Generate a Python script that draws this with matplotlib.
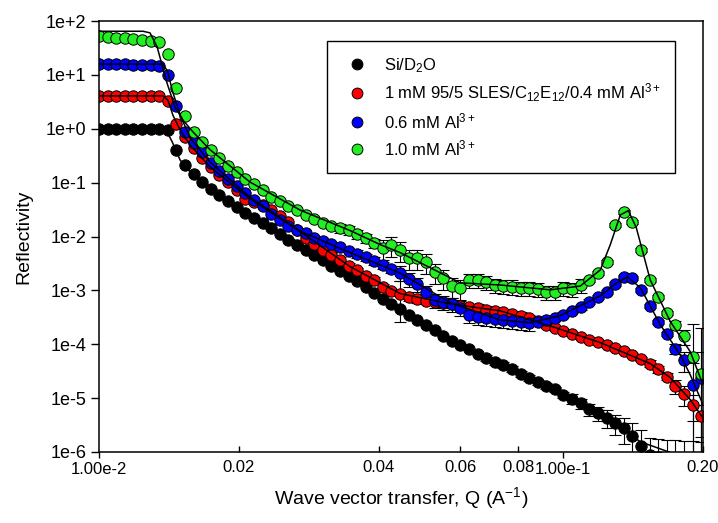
import numpy as np
import matplotlib.pyplot as plt
from matplotlib.ticker import NullLocator

plt.rcParams["font.family"] = ["Liberation Sans", "DejaVu Sans"]
plt.rcParams["mathtext.fontset"] = "custom"
plt.rcParams["mathtext.rm"] = "Liberation Sans"
plt.rcParams["mathtext.it"] = "Liberation Sans:italic"
plt.rcParams["mathtext.default"] = "regular"

# Wave vector transfer Q (A^-1), shared by all data sets.
q = [0.01000, 0.01044, 0.01089, 0.01137, 0.01186, 0.01238, 0.01292, 0.01348, 0.01407, 0.01468,
     0.01532, 0.01599, 0.01669, 0.01742, 0.01817, 0.01897, 0.01979, 0.02066, 0.02156, 0.02250,
     0.02348, 0.02450, 0.02557, 0.02668, 0.02785, 0.02906, 0.03033, 0.03165, 0.03303, 0.03447,
     0.03597, 0.03754, 0.03917, 0.04088, 0.04266, 0.04452, 0.04646, 0.04849, 0.05060, 0.05281,
     0.05511, 0.05751, 0.06002, 0.06263, 0.06536, 0.06821, 0.07119, 0.07429, 0.07753, 0.08091,
     0.08443, 0.08811, 0.09195, 0.09596, 0.1001, 0.1045, 0.1091, 0.1138, 0.1188, 0.1240,
     0.1294, 0.1350, 0.1409, 0.1470, 0.1534, 0.1601, 0.1671, 0.1744, 0.1820, 0.1899,
     0.1982]

# log10 of reflectivity (offset data sets, as plotted)
black_log = [0.00, 0.00, 0.00, 0.00, 0.00, 0.00, 0.00, 0.00, -0.02, -0.39,
             -0.67, -0.84, -0.99, -1.12, -1.23, -1.34, -1.46, -1.57, -1.66, -1.75,
             -1.85, -1.96, -2.07, -2.16, -2.25, -2.35, -2.44, -2.55, -2.64, -2.74,
             -2.83, -2.94, -3.05, -3.16, -3.25, -3.34, -3.45, -3.55, -3.64, -3.73,
             -3.84, -3.94, -4.01, -4.08, -4.18, -4.25, -4.33, -4.38, -4.46, -4.55,
             -4.62, -4.71, -4.77, -4.84, -4.94, -5.01, -5.10, -5.20, -5.27, -5.36,
             -5.46, -5.55, -5.70, -5.88, -6.05, -6.10, -6.15, -6.20, -6.25, -6.30,
             -6.35]
red_log = [0.61, 0.61, 0.61, 0.61, 0.61, 0.61, 0.61, 0.61, 0.52, 0.09,
           -0.15, -0.36, -0.54, -0.71, -0.86, -0.99, -1.13, -1.30, -1.36, -1.41,
           -1.51, -1.62, -1.73, -1.88, -2.03, -2.14, -2.25, -2.34, -2.43, -2.54,
           -2.62, -2.73, -2.80, -2.93, -3.01, -3.06, -3.12, -3.16, -3.19, -3.21,
           -3.23, -3.25, -3.29, -3.31, -3.32, -3.36, -3.38, -3.40, -3.44, -3.47,
           -3.51, -3.57, -3.64, -3.70, -3.75, -3.81, -3.86, -3.92, -3.96, -4.01,
           -4.07, -4.12, -4.20, -4.27, -4.36, -4.46, -4.60, -4.77, -4.92, -5.12,
           -5.33]
blue_log = [1.20, 1.20, 1.20, 1.20, 1.19, 1.19, 1.18, 1.17, 1.00, 0.42,
            -0.06, -0.26, -0.43, -0.63, -0.78, -0.93, -1.06, -1.19, -1.32, -1.43,
            -1.58, -1.69, -1.80, -1.88, -1.93, -2.02, -2.08, -2.14, -2.19, -2.27,
            -2.32, -2.38, -2.45, -2.53, -2.60, -2.67, -2.79, -2.88, -3.03, -3.18,
            -3.21, -3.25, -3.32, -3.45, -3.49, -3.51, -3.53, -3.55, -3.57, -3.58,
            -3.60, -3.58, -3.55, -3.51, -3.45, -3.38, -3.31, -3.21, -3.12, -3.03,
            -2.88, -2.75, -2.77, -2.99, -3.29, -3.58, -3.81, -4.08, -4.29, -4.75,
            -4.62]
green_log = [1.72, 1.70, 1.68, 1.68, 1.67, 1.65, 1.63, 1.61, 1.39, 0.76,
             0.24, -0.06, -0.24, -0.39, -0.54, -0.69, -0.80, -0.93, -1.02, -1.14,
             -1.26, -1.34, -1.43, -1.51, -1.60, -1.67, -1.75, -1.80, -1.84, -1.88,
             -1.95, -2.03, -2.12, -2.21, -2.16, -2.25, -2.40, -2.40, -2.47, -2.66,
             -2.77, -2.92, -2.95, -2.81, -2.81, -2.84, -2.90, -2.92, -2.93, -2.95,
             -2.95, -2.97, -3.03, -3.03, -2.95, -2.97, -2.90, -2.81, -2.68, -2.47,
             -1.78, -1.54, -1.73, -2.25, -2.81, -3.12, -3.42, -3.64, -3.85, -4.23,
             -4.55]

# relative error (dR/R) of each point, 0 = no visible bar
black_err = [0, 0, 0, 0, 0, 0, 0, 0, 0, 0,
             0, 0, 0, 0, 0, 0, 0, 0, 0, 0,
             0, 0, 0, 0, 0, 0, 0, 0, 0, 0,
             0, 0, 0, 0, 0, 0, 0, 0, 0, 0,
             0, 0, 0, 0, 0, 0.12, 0.12, 0.12, 0.12, 0.12,
             0.12, 0.12, 0.12, 0.12, 0.12, 0.2, 0.2, 0.25, 0.3, 0.35,
             0.4, 0.5, 0.7, 0.9, 1.0, 1.2, 1.4, 1.6, 1.9, 2.2,
             2.5]
red_err = [0, 0, 0, 0, 0, 0, 0, 0, 0, 0,
           0, 0, 0, 0, 0, 0, 0, 0, 0, 0,
           0, 0, 0, 0, 0.1, 0.1, 0.1, 0.1, 0.1, 0.1,
           0.1, 0.1, 0.1, 0.1, 0.1, 0.7, 0.15, 0.15, 0.15, 0.15,
           0.15, 0.15, 0.15, 0.15, 0.15, 0.15, 0.15, 0.15, 0.15, 0.15,
           0.15, 0.08, 0.08, 0.08, 0.08, 0.08, 0.08, 0.08, 0.08, 0.08,
           0.08, 0.08, 0.08, 0.08, 0.15, 0.15, 0.15, 0.3, 0.4, 0.5,
           0.6]
blue_err = [0, 0, 0, 0, 0, 0, 0, 0, 0, 0,
            0, 0, 0, 0, 0, 0, 0, 0, 0, 0,
            0, 0, 0, 0, 0, 0, 0, 0, 0, 0,
            0.15, 0.15, 0.15, 0.15, 0.15, 0.3, 0.3, 0.3, 0.3, 0.3,
            0.3, 0.3, 0.3, 0.3, 0.3, 0.3, 0.3, 0.3, 0.3, 0.3,
            0.3, 0.1, 0.1, 0.1, 0.1, 0.1, 0.1, 0.1, 0.1, 0.1,
            0.1, 0.08, 0.08, 0.08, 0.08, 0.08, 0.08, 0.2, 0.4, 1.5,
            2.0]
green_err = [0, 0, 0, 0, 0, 0, 0, 0, 0, 0,
             0, 0, 0, 0, 0, 0, 0, 0, 0, 0,
             0, 0, 0, 0, 0, 0, 0, 0, 0.2, 0.2,
             0.2, 0.2, 0.2, 0.4, 0.4, 0.4, 0.4, 0.4, 0.4, 0.4,
             0.4, 0.4, 0.4, 0.3, 0.3, 0.3, 0.3, 0.3, 0.3, 0.3,
             0.3, 0.3, 0.3, 0.3, 0.3, 0.3, 0.3, 0.08, 0.08, 0.08,
             0.08, 0.08, 0.08, 0.08, 0.08, 0.08, 0.08, 0.2, 0.3, 3.0,
             6.0]

# model fits (solid black lines)
black_fit_q = [0.0100, 0.01353, 0.01394, 0.01437, 0.01495, 0.01571, 0.01735, 0.02115, 0.02712,
               0.03475, 0.04455, 0.05708, 0.07315, 0.09376, 0.1202, 0.1466, 0.1701, 0.1974]
black_fit_log = [0.00, 0.00, -0.02, -0.24, -0.58, -0.80, -1.12, -1.62, -2.12,
                 -2.75, -3.34, -3.92, -4.36, -4.81, -5.31, -5.81, -6.01, -6.33]
red_fit_q = [0.0100, 0.01374, 0.01408, 0.01443, 0.01495, 0.01571, 0.01735, 0.02115, 0.02712, 0.03475,
             0.04455, 0.05708, 0.07315, 0.09376, 0.1202, 0.1540, 0.1701, 0.1878, 0.2000]
red_fit_log = [0.61, 0.61, 0.53, 0.25, -0.02, -0.30, -0.71, -1.30, -1.91, -2.56,
               -3.06, -3.25, -3.38, -3.66, -3.97, -4.36, -4.62, -5.03, -5.37]
blue_fit_q = [0.0100, 0.01374, 0.01408, 0.01437, 0.01495, 0.01571, 0.01735, 0.02115, 0.02712, 0.03475,
              0.04455, 0.05708, 0.07315, 0.08487, 0.09852, 0.1202, 0.1294, 0.1374, 0.1466, 0.1619,
              0.1787, 0.1878, 0.2000]
blue_fit_log = [1.20, 1.20, 1.05, 0.72, 0.26, -0.17, -0.62, -1.27, -1.90, -2.30,
                -2.68, -3.23, -3.55, -3.60, -3.47, -3.10, -2.88, -2.75, -2.95, -3.64,
                -4.20, -4.57, -5.12]
green_fit_q = [0.0100, 0.01244, 0.01288, 0.01334, 0.01401, 0.01458, 0.01517, 0.01594, 0.01735, 0.02115,
               0.02712, 0.03475, 0.04033, 0.04455, 0.05170, 0.05998, 0.07315, 0.09376, 0.1088, 0.1202,
               0.1263, 0.1327, 0.1381, 0.1437, 0.1540, 0.1701, 0.1878, 0.2000]
green_fit_log = [1.81, 1.81, 1.78, 1.52, 0.85, 0.40, 0.16, -0.06, -0.39, -0.99,
                 -1.51, -1.89, -2.15, -2.30, -2.58, -2.86, -2.90, -2.99, -2.92, -2.62,
                 -2.15, -1.60, -1.52, -1.84, -2.81, -3.58, -4.14, -4.75]

labels = [r"Si/D$_2$O",
          r"1 mM 95/5 SLES/C$_{12}$E$_{12}$/0.4 mM Al$^{3+}$",
          r"0.6 mM Al$^{3+}$",
          r"1.0 mM Al$^{3+}$"]
colors = ["black", "#ff0000", "#0000ff", "#22ee22"]

x_ticks = [0.01, 0.1]
x_tick_labels = ["1.00e-2", "1.00e-1"]
x_minor_ticks = [0.02, 0.04, 0.06, 0.08, 0.2]
x_minor_labels = ["0.02", "0.04", "0.06", "0.08", "0.20"]
y_ticks = [1e-6, 1e-5, 1e-4, 1e-3, 1e-2, 1e-1, 1e0, 1e1, 1e2]
y_tick_labels = ["1e-6", "1e-5", "1e-4", "1e-3", "1e-2", "1e-1", "1e+0", "1e+1", "1e+2"]

fig, ax = plt.subplots(figsize=(7.18, 5.23), dpi=100)
fig.subplots_adjust(left=0.1379, right=0.9791, bottom=0.1358, top=0.9598)
ax.set_xscale("log")
ax.set_yscale("log", nonpositive="clip")

q_arr = np.array(q)
data = [(black_log, black_err), (red_log, red_err), (blue_log, blue_err), (green_log, green_err)]
for (logr, err), color, label in zip(data, colors, labels):
    r = 10 ** np.array(logr)
    e = r * np.array(err)
    has_err = e > 0
    ax.errorbar(q_arr[has_err], r[has_err], yerr=e[has_err], fmt="none", ecolor="black",
                elinewidth=0.8, capsize=4.5, capthick=0.8, zorder=1)
    ax.plot(q_arr, r, "o", ms=8.2, mfc=color, mec="black", mew=0.7, label=label, zorder=2)

fits = [(black_fit_q, black_fit_log), (red_fit_q, red_fit_log),
        (blue_fit_q, blue_fit_log), (green_fit_q, green_fit_log)]
for fq, flog in fits:
    ax.plot(fq, 10 ** np.array(flog), color="black", lw=1.1, zorder=3)

ax.set_xlim(0.01, 0.2)
ax.set_ylim(1e-6, 1e2)

ax.set_xticks(x_ticks, x_tick_labels)
ax.set_xticks(x_minor_ticks, x_minor_labels, minor=True)
ax.tick_params(axis="x", which="major", direction="out", length=4, width=1, pad=3, labelsize=12)
ax.tick_params(axis="x", which="minor", direction="in", length=4, width=1, pad=6, labelsize=12)
ax.set_yticks(y_ticks, y_tick_labels)
ax.yaxis.set_minor_locator(NullLocator())
ax.tick_params(axis="y", direction="out", length=6, width=1, pad=3, labelsize=13)

for spine in ax.spines.values():
    spine.set_linewidth(1.1)

ax.set_xlabel(r"Wave vector transfer, Q (A$^{-1}$)", fontsize=14, labelpad=6)
ax.set_ylabel("Reflectivity", fontsize=14, labelpad=10)

leg = ax.legend(loc="upper left", bbox_to_anchor=(327 / 718, 1 - 41 / 523),
                bbox_transform=fig.transFigure, borderaxespad=0, fontsize=12,
                frameon=True, fancybox=False, framealpha=1, edgecolor="black",
                borderpad=0.9, handlelength=1.8, handletextpad=0.7, labelspacing=0.42,
                markerscale=0.95)
leg.get_frame().set_linewidth(1.0)

plt.savefig("out.png", dpi=100)
